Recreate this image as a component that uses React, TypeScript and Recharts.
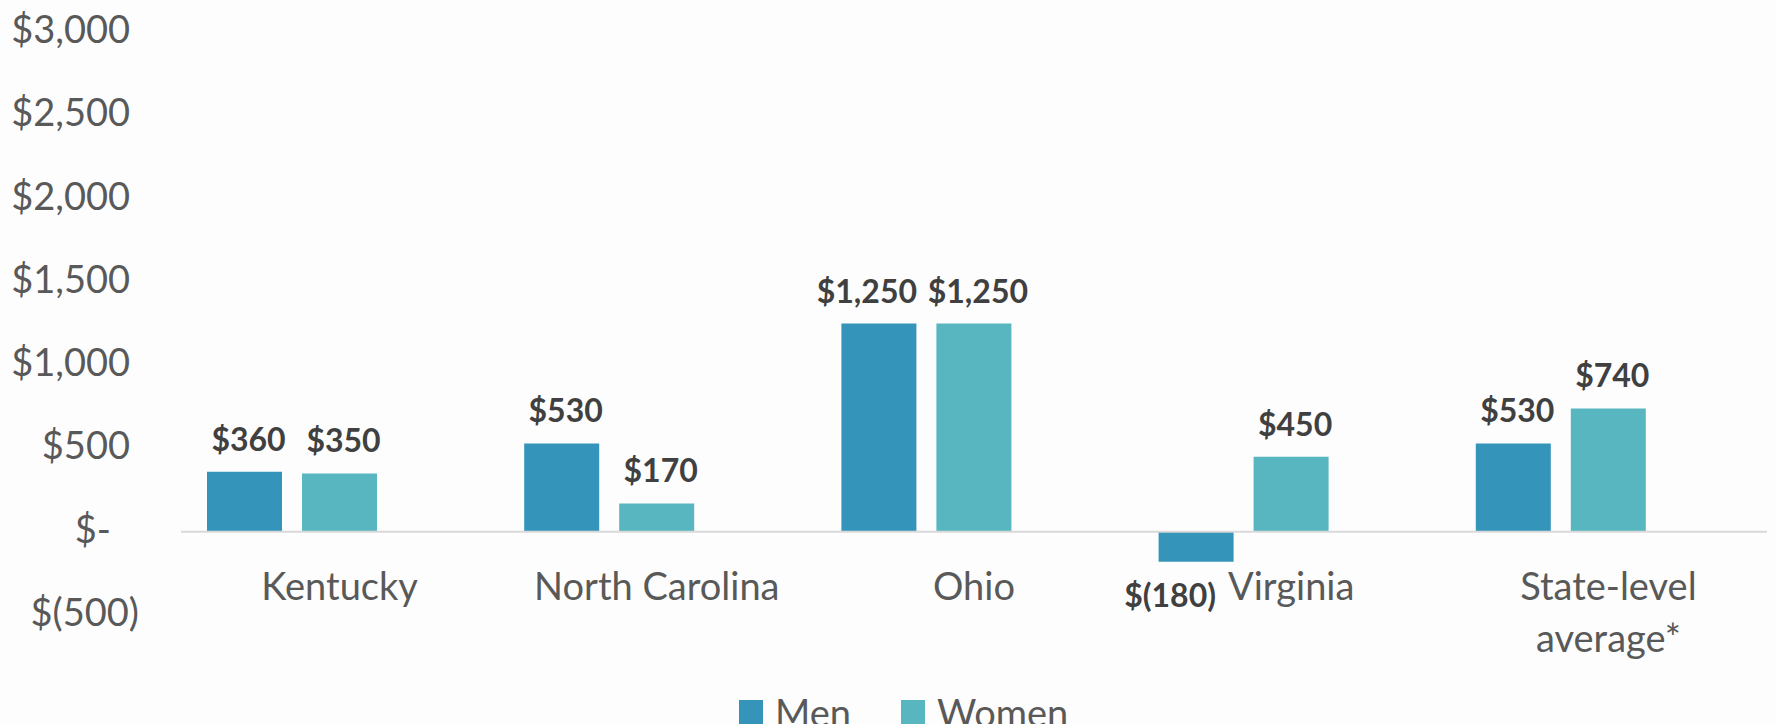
import { BarChart, Bar, XAxis, YAxis, ReferenceLine, LabelList } from "recharts";

const categories = ["Kentucky", "North Carolina", "Ohio", "Virginia", "State-level average*"];
const men = [360, 530, 1250, -180, 530];
const women = [350, 170, 1250, 450, 740];
// Excel chart had a third, empty series that still takes a slot in each group
const empty = [null, null, null, null, null];
const yTicks = [-500, 0, 500, 1000, 1500, 2000, 2500, 3000];

const seriesNames = ["Men", "Women"];
const seriesColors = ["#3494BA", "#58B6C0"];

const data = categories.map((c, i) => ({
  name: c,
  men: men[i],
  women: women[i],
  empty: empty[i],
}));

const FONT = "Lato, 'Open Sans', sans-serif";

function money(v: number) {
  if (v === 0) return "$-";
  if (v < 0) return "$(" + Math.abs(v).toLocaleString("en-US") + ")";
  return "$" + v.toLocaleString("en-US");
}

function YTick(props: any) {
  const { x, y, payload } = props;
  const v = payload.value;
  const shift = v < 0 ? 9 : v === 0 ? -19 : 0;
  return (
    <text
      x={x + shift}
      y={y + 11}
      textAnchor="end"
      fill="#595959"
      fontSize={38}
      fontFamily={FONT}
    >
      {money(v)}
    </text>
  );
}

function XTick(props: any) {
  const { x, y, payload } = props;
  const label: string = payload.value;
  let lines = [label];
  if (label.length > 16) {
    const k = label.lastIndexOf(" ");
    lines = [label.slice(0, k), label.slice(k + 1)];
  }
  return (
    <text textAnchor="middle" fill="#595959" fontSize={38} fontFamily={FONT}>
      {lines.map((l, i) => (
        <tspan key={i} x={x} y={y - 15 + i * 52}>
          {l}
        </tspan>
      ))}
    </text>
  );
}

// first series labels get pushed left when they are wide, like Excel does
function makeLabel(first: boolean) {
  return function ValueLabel(props: any) {
    const { x, y, width, height, value } = props;
    if (value == null) return null;
    const top = Math.min(y, y + height);
    const bottom = Math.max(y, y + height);
    const neg = value < 0;
    const txt = money(value);
    let dx = 4;
    if (neg) dx = -26;
    else if (first && txt.length > 5) dx = -12;
    return (
      <text
        x={x + width / 2 + dx}
        y={neg ? bottom + 45 : top - 21}
        textAnchor="middle"
        fill="#404040"
        fontSize={32}
        fontWeight="bold"
        fontFamily={FONT}
      >
        {txt}
      </text>
    );
  };
}

const MenLabel = makeLabel(true);
const WomenLabel = makeLabel(false);

export default function App() {
  return (
    <div
      style={{
        position: "absolute",
        left: 0,
        top: 0,
        width: 1776,
        height: 724,
        background: "#fdfdfd",
        overflow: "hidden",
      }}
    >
      <BarChart
        width={1776}
        height={724}
        data={data}
        margin={{ top: 32, right: 9, bottom: 0, left: 0 }}
        barSize={75}
        barGap={20}
      >
        <YAxis
          width={181}
          domain={[-500, 3000]}
          ticks={yTicks}
          axisLine={false}
          tickLine={false}
          tickSize={0}
          tickMargin={51}
          tick={<YTick />}
        />
        <XAxis
          dataKey="name"
          height={109}
          axisLine={false}
          tickLine={false}
          tickSize={0}
          tickMargin={0}
          interval={0}
          tick={<XTick />}
        />
        <ReferenceLine y={0} stroke="#d9d9d9" strokeWidth={2} />
        <Bar dataKey="men" fill={seriesColors[0]} isAnimationActive={false}>
          <LabelList dataKey="men" content={<MenLabel />} />
        </Bar>
        <Bar dataKey="women" fill={seriesColors[1]} isAnimationActive={false}>
          <LabelList dataKey="women" content={<WomenLabel />} />
        </Bar>
        <Bar dataKey="empty" fill="none" isAnimationActive={false} />
      </BarChart>
      <div
        style={{
          position: "absolute",
          left: 739,
          top: 692,
          display: "flex",
          alignItems: "center",
          fontFamily: FONT,
          fontSize: 38,
          color: "#595959",
          whiteSpace: "nowrap",
        }}
      >
        {seriesNames.map((n, i) => (
          <div
            key={n}
            style={{ display: "flex", alignItems: "center", marginRight: i === 0 ? 50 : 0 }}
          >
            <span
              style={{
                display: "inline-block",
                width: 24,
                height: 24,
                background: seriesColors[i],
                marginRight: 12,
              }}
            />
            <span style={{ lineHeight: "40px" }}>{n}</span>
          </div>
        ))}
      </div>
    </div>
  );
}
